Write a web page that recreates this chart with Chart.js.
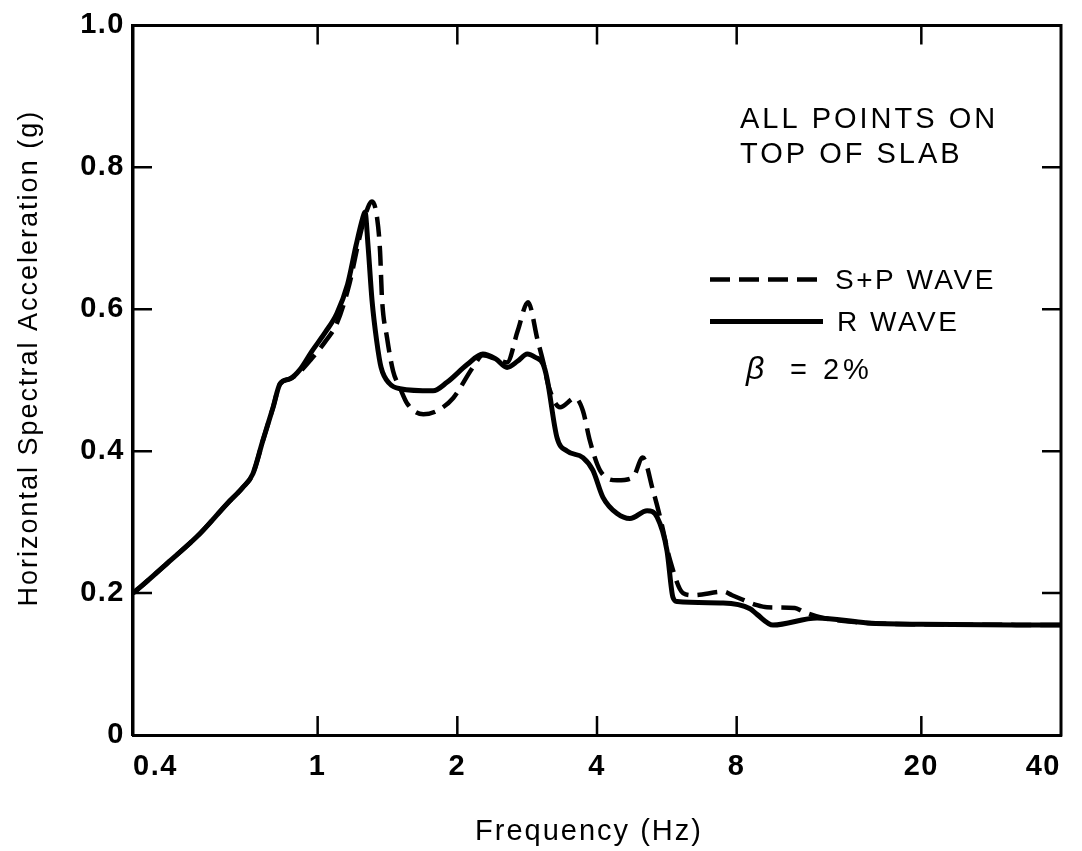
<!DOCTYPE html>
<html>
<head>
<meta charset="utf-8">
<script src="https://cdn.jsdelivr.net/npm/chart.js@4/dist/chart.umd.min.js"></script>
<style>
html,body{margin:0;padding:0;background:#fff;}
#wrap{width:1082px;height:851px;}
</style>
</head>
<body>
<div id="wrap"><canvas id="c" width="1082" height="851"></canvas></div>
<script>
// ---- data ----
const freqTicks = [0.4, 1, 2, 4, 8, 20, 40];
const accelTicks = [0, 0.2, 0.4, 0.6, 0.8, 1.0];

const spFreq  = [0.40,0.414,0.474,0.558,0.638,0.690,0.725,0.762,0.801,0.830,
                 0.872,0.916,0.97,1.04,1.10,1.17,1.23,1.27,1.31,1.343,
                 1.363,1.376,1.411,1.454,1.505,1.56,1.69,1.81,1.96,2.16,
                 2.27,2.42,2.56,2.70,2.84,2.98,3.06,3.15,3.33,3.59,
                 3.73,3.86,4.06,4.42,4.78,5.02,5.28,5.47,5.75,6.13,
                 6.44,7.50,7.82,8.85,9.30,10.68,11.12,12.28,15.3,20,40];
const spAccel = [0.200,0.208,0.242,0.284,0.326,0.349,0.368,0.415,0.461,0.495,
                 0.502,0.512,0.530,0.555,0.580,0.635,0.700,0.735,0.752,0.729,
                 0.682,0.616,0.560,0.513,0.489,0.467,0.452,0.457,0.475,0.518,
                 0.535,0.530,0.525,0.570,0.610,0.556,0.527,0.490,0.462,0.475,
                 0.457,0.415,0.373,0.359,0.363,0.391,0.345,0.307,0.246,0.200,
                 0.197,0.202,0.197,0.183,0.180,0.179,0.174,0.165,0.158,0.156,0.155];

const rFreq  = [0.40,0.414,0.474,0.558,0.638,0.690,0.725,0.762,0.801,0.830,
                0.872,0.916,0.97,1.04,1.10,1.16,1.21,1.25,1.265,1.284,
                1.31,1.34,1.37,1.43,1.505,1.773,1.90,2.10,2.27,2.42,
                2.56,2.70,2.83,2.95,3.06,3.12,3.28,3.45,3.73,3.92,
                4.12,4.42,4.71,5.13,5.39,5.66,5.83,5.95,7.48,8.55,
                8.85,9.58,11.92,15.3,20,40];
const rAccel = [0.200,0.208,0.242,0.284,0.326,0.349,0.368,0.415,0.461,0.495,
                0.502,0.515,0.540,0.568,0.594,0.635,0.690,0.728,0.737,0.690,
                0.612,0.556,0.518,0.495,0.488,0.485,0.497,0.522,0.537,0.530,
                0.518,0.527,0.537,0.532,0.523,0.503,0.419,0.400,0.391,0.373,
                0.335,0.312,0.305,0.316,0.307,0.260,0.194,0.188,0.186,0.178,
                0.170,0.155,0.165,0.158,0.156,0.155];

const seriesLabels = ['S+P WAVE', 'R WAVE'];
const noteLines = ['ALL POINTS ON', 'TOP OF SLAB'];
const dampingSymbol = 'β';
const dampingValue = '= 2%';
const xTitle = 'Frequency (Hz)';
const yTitle = 'Horizontal Spectral Acceleration (g)';

// ---- chart ----
const FONT = "'Liberation Sans', Arial, Helvetica, sans-serif";
const INK = '#000';

const toXY = (xs, ys) => xs.map((x, i) => ({x: x, y: ys[i]}));

// tick labels are drawn after the datasets (ticks.z = 1) with letter spacing
const spacingPlugin = {
  id: 'spacing',
  beforeDraw(chart) { chart.ctx.letterSpacing = '0px'; },
  afterDatasetsDraw(chart) { chart.ctx.letterSpacing = '1.5px'; },
  afterDraw(chart) { chart.ctx.letterSpacing = '0px'; }
};

const framePlugin = {
  id: 'frame',
  afterDatasetsDraw(chart) {
    const {ctx, chartArea: a, scales} = chart;
    ctx.save();
    ctx.strokeStyle = INK;
    ctx.lineCap = 'butt';
    ctx.lineWidth = 3;
    ctx.beginPath();
    ctx.moveTo(a.left - 1.5, a.top);
    ctx.lineTo(a.right, a.top);
    ctx.lineTo(a.right, a.bottom + 1.5);
    ctx.stroke();
    ctx.lineWidth = 2.5;
    const tl = 19;
    ctx.beginPath();
    freqTicks.slice(1, -1).forEach(v => {
      const px = scales.x.getPixelForValue(v);
      ctx.moveTo(px, a.bottom); ctx.lineTo(px, a.bottom - tl);
      ctx.moveTo(px, a.top); ctx.lineTo(px, a.top + tl);
    });
    accelTicks.slice(1, -1).forEach(v => {
      const py = scales.y.getPixelForValue(v);
      ctx.moveTo(a.left, py); ctx.lineTo(a.left + tl, py);
      ctx.moveTo(a.right, py); ctx.lineTo(a.right - tl, py);
    });
    ctx.stroke();
    ctx.restore();
  },
  afterDraw(chart) {
    const {ctx, chartArea: a, data} = chart;
    ctx.save();
    ctx.fillStyle = INK;
    ctx.strokeStyle = INK;
    ctx.textBaseline = 'alphabetic';
    ctx.textAlign = 'left';

    // axis titles
    ctx.save();
    ctx.font = '29px ' + FONT;
    ctx.letterSpacing = '2px';
    ctx.textAlign = 'center';
    ctx.fillText(xTitle, (a.left + a.right) / 2 - 8, a.bottom + 105);
    ctx.restore();

    ctx.save();
    ctx.font = '27px ' + FONT;
    ctx.letterSpacing = '2px';
    ctx.textAlign = 'center';
    ctx.textBaseline = 'middle';
    ctx.translate(30, (a.top + a.bottom) / 2 - 22);
    ctx.rotate(-Math.PI / 2);
    ctx.fillText(yTitle, 0, 0);
    ctx.restore();

    // note text
    ctx.font = '29px ' + FONT;
    ctx.letterSpacing = '3px';
    const nx = a.left + 607;
    ctx.fillText(noteLines[0], nx, a.top + 103);
    ctx.fillText(noteLines[1], nx, a.top + 138);

    // legend
    const lx0 = a.left + 577, lx1 = a.left + 690;
    const rows = [a.top + 254, a.top + 296];
    ctx.font = '28px ' + FONT;
    ctx.letterSpacing = '2.5px';
    data.datasets.forEach((ds, i) => {
      const y = rows[i];
      ctx.save();
      ctx.lineWidth = ds.borderWidth;
      ctx.setLineDash(ds.borderDash || []);
      ctx.beginPath();
      ctx.moveTo(lx0, y);
      ctx.lineTo(lx1, y);
      ctx.stroke();
      ctx.restore();
      ctx.fillText(ds.label, i === 0 ? a.left + 702 : a.left + 704, y + 10);
    });

    // damping
    ctx.font = 'italic 32px ' + FONT;
    ctx.letterSpacing = '0px';
    ctx.fillText(dampingSymbol, a.left + 613, a.top + 354);
    ctx.font = '29px ' + FONT;
    ctx.letterSpacing = '4px';
    ctx.fillText(dampingValue, a.left + 657, a.top + 354);
    ctx.restore();
  }
};

new Chart(document.getElementById('c'), {
  type: 'line',
  data: {
    datasets: [
      {
        label: seriesLabels[0],
        data: toXY(spFreq, spAccel),
        borderColor: INK,
        borderWidth: 4.5,
        borderDash: [20, 9],
        borderCapStyle: 'butt',
        pointRadius: 0,
        fill: false,
        cubicInterpolationMode: 'monotone'
      },
      {
        label: seriesLabels[1],
        data: toXY(rFreq, rAccel),
        borderColor: INK,
        borderWidth: 5,
        pointRadius: 0,
        fill: false,
        cubicInterpolationMode: 'monotone'
      }
    ]
  },
  options: {
    responsive: false,
    animation: false,
    devicePixelRatio: 1,
    layout: {padding: {left: 0, right: 21, top: 24, bottom: 0}},
    plugins: {legend: {display: false}, tooltip: {enabled: false}},
    scales: {
      x: {
        type: 'logarithmic',
        position: 'bottom',
        min: 0.4,
        max: 40,
        afterBuildTicks: s => { s.ticks = freqTicks.map(v => ({value: v})); },
        afterFit: s => { s.height = 116; },
        grid: {display: false, drawTicks: false},
        border: {display: true, color: INK, width: 3},
        ticks: {
          z: 1,
          autoSkip: false,
          maxRotation: 0,
          align: 'inner',
          padding: 15,
          color: INK,
          font: {family: FONT, size: 29, weight: 'bold'},
          callback: v => String(v)
        },
        title: {display: false, text: xTitle}
      },
      y: {
        type: 'linear',
        min: 0,
        max: 1,
        afterBuildTicks: s => { s.ticks = accelTicks.map(v => ({value: v})); },
        afterFit: s => { s.width = 133; },
        grid: {display: false, drawTicks: false},
        border: {display: true, color: INK, width: 3.5},
        ticks: {
          z: 1,
          padding: 8,
          color: INK,
          font: {family: FONT, size: 29, weight: 'bold'},
          callback: v => (v === 0 ? '0' : v.toFixed(1))
        },
        title: {display: false, text: yTitle}
      }
    }
  },
  plugins: [spacingPlugin, framePlugin]
});
</script>
</body>
</html>
